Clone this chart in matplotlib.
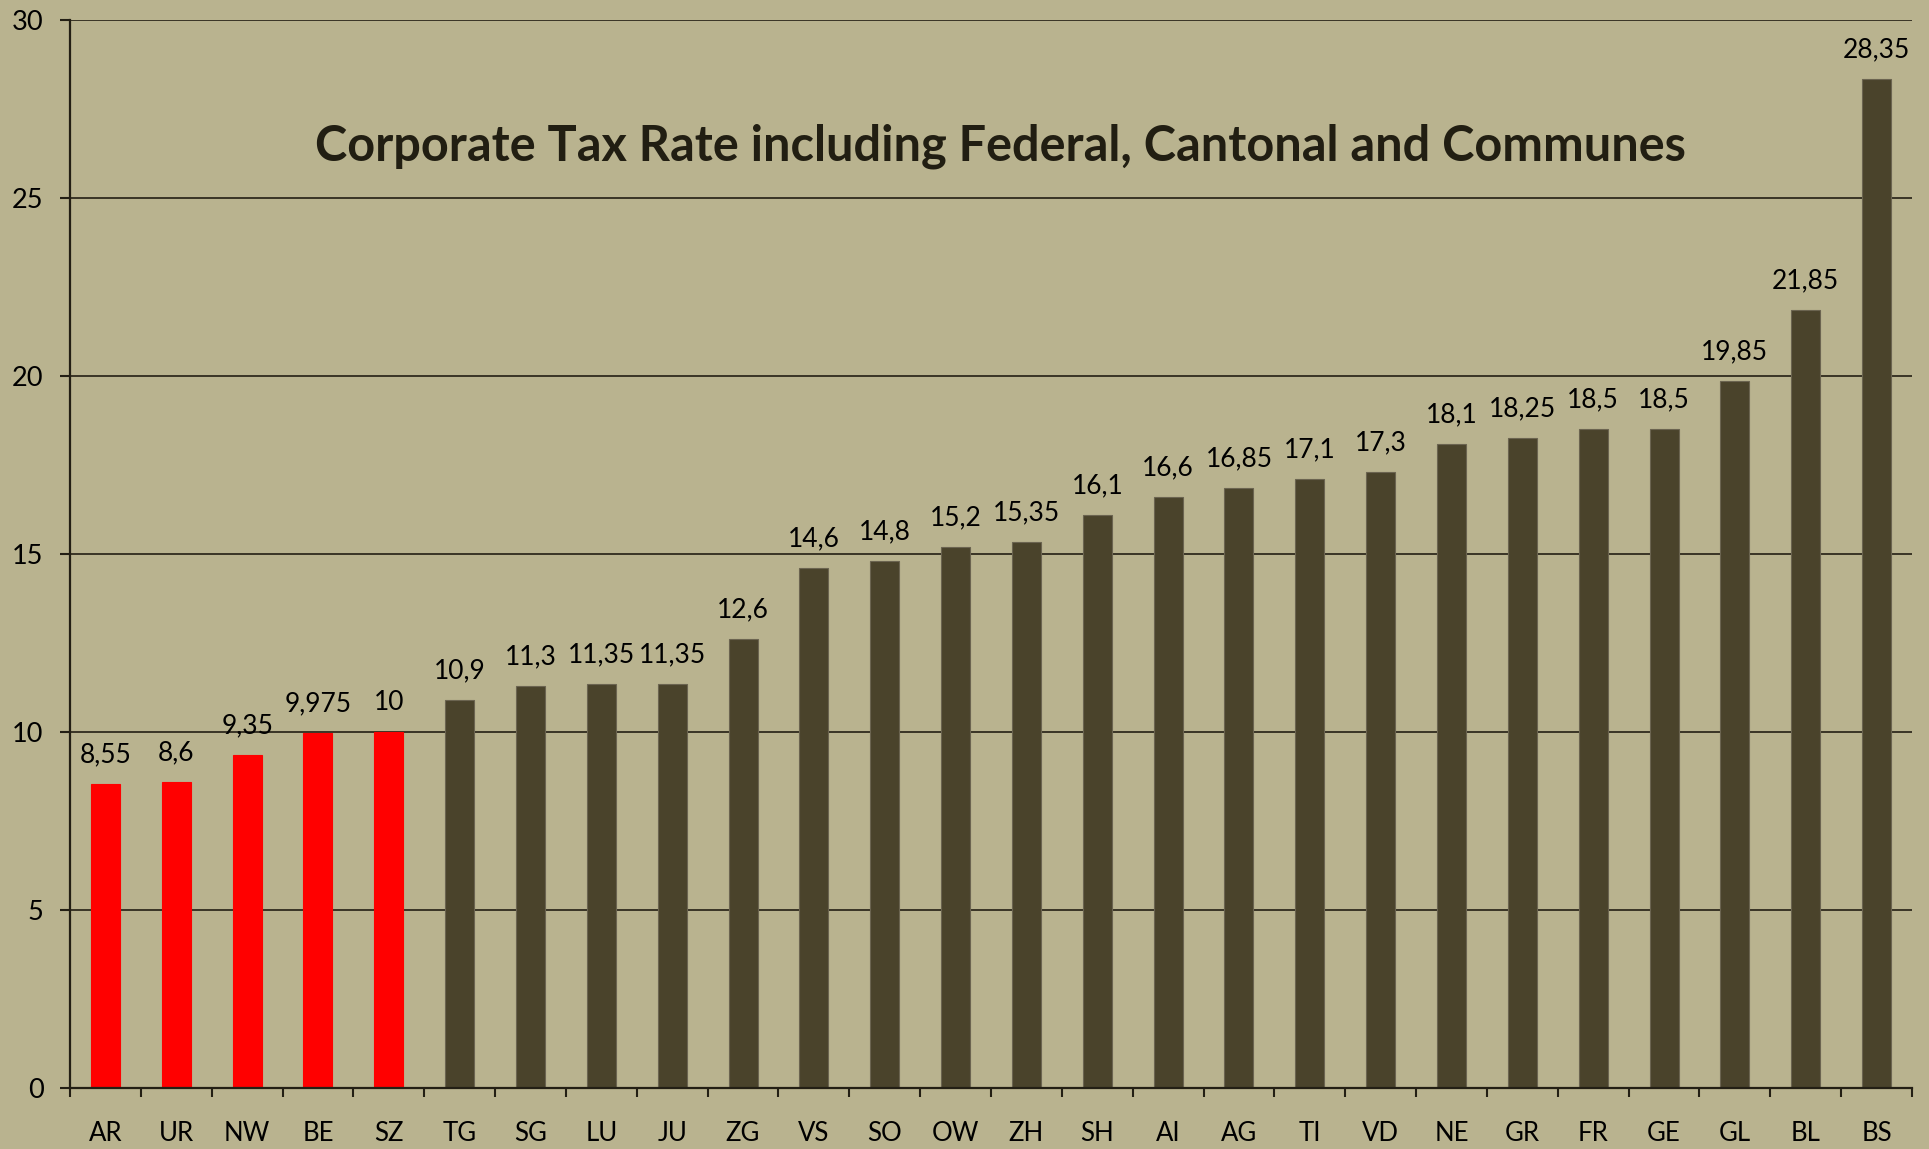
import matplotlib
matplotlib.use("Agg")
import matplotlib.pyplot as plt

cantons = ["AR", "UR", "NW", "BE", "SZ", "TG", "SG", "LU", "JU", "ZG", "VS", "SO", "OW",
           "ZH", "SH", "AI", "AG", "TI", "VD", "NE", "GR", "FR", "GE", "GL", "BL", "BS"]
rates = [8.55, 8.6, 9.35, 9.975, 10, 10.9, 11.3, 11.35, 11.35, 12.6, 14.6, 14.8, 15.2,
         15.35, 16.1, 16.6, 16.85, 17.1, 17.3, 18.1, 18.25, 18.5, 18.5, 19.85, 21.85, 28.35]
n_low = 5  # first five drawn red

bg = "#b9b38f"
dark = "#4a432b"
line = "#231f14"

plt.rcParams["font.family"] = ["Lato", "DejaVu Sans"]

fig = plt.figure(figsize=(19.29, 11.49), dpi=100, facecolor=bg)
ax = fig.add_axes([70 / 1929, 1 - 1088 / 1149, (1912 - 70) / 1929, (1088 - 20) / 1149])
ax.set_facecolor(bg)

x = list(range(len(cantons)))
colors = ["#ff0000"] * n_low + [dark] * (len(cantons) - n_low)
edges = ["#ff0000"] * n_low + ["#6b6450"] * (len(cantons) - n_low)
ax.bar(x, rates, width=0.41, color=colors, edgecolor=edges, linewidth=0.8, zorder=3)

for xi, v in zip(x, rates):
    lab = ("%g" % v).replace(".", ",")
    ax.annotate(lab, (xi, v), xytext=(0, 12), textcoords="offset points",
                ha="center", va="bottom", fontsize=19, color="black", zorder=4)

ax.set_xlim(-0.5, len(cantons) - 0.5)
ax.set_ylim(0, 30)
ax.set_yticks(range(0, 31, 5))
ax.set_xticks([i - 0.5 for i in range(len(cantons) + 1)], minor=False)
ax.set_xticklabels([])
ax.set_xticks(x, minor=True)
ax.set_xticklabels(cantons, minor=True, fontsize=18.5)
ax.tick_params(axis="x", which="minor", length=0, pad=24)
ax.tick_params(axis="x", which="major", length=6.5, width=1.5, color=line, direction="out")
ax.tick_params(axis="y", length=7, width=1.5, color=line, labelsize=19.5, pad=12)

ax.grid(axis="y", color=line, linewidth=1.2, zorder=0)
for s in ["top", "right"]:
    ax.spines[s].set_visible(False)
for s in ["left", "bottom"]:
    ax.spines[s].set_color(line)
    ax.spines[s].set_linewidth(1.6)
    ax.spines[s].set_zorder(5)

ax.text(0.505, 0.882, "Corporate Tax Rate including Federal, Cantonal and Communes",
        transform=ax.transAxes, ha="center", va="center", fontsize=35,
        fontweight="bold", color="#211e12")

fig.savefig("out.png", dpi=100, facecolor=bg)
